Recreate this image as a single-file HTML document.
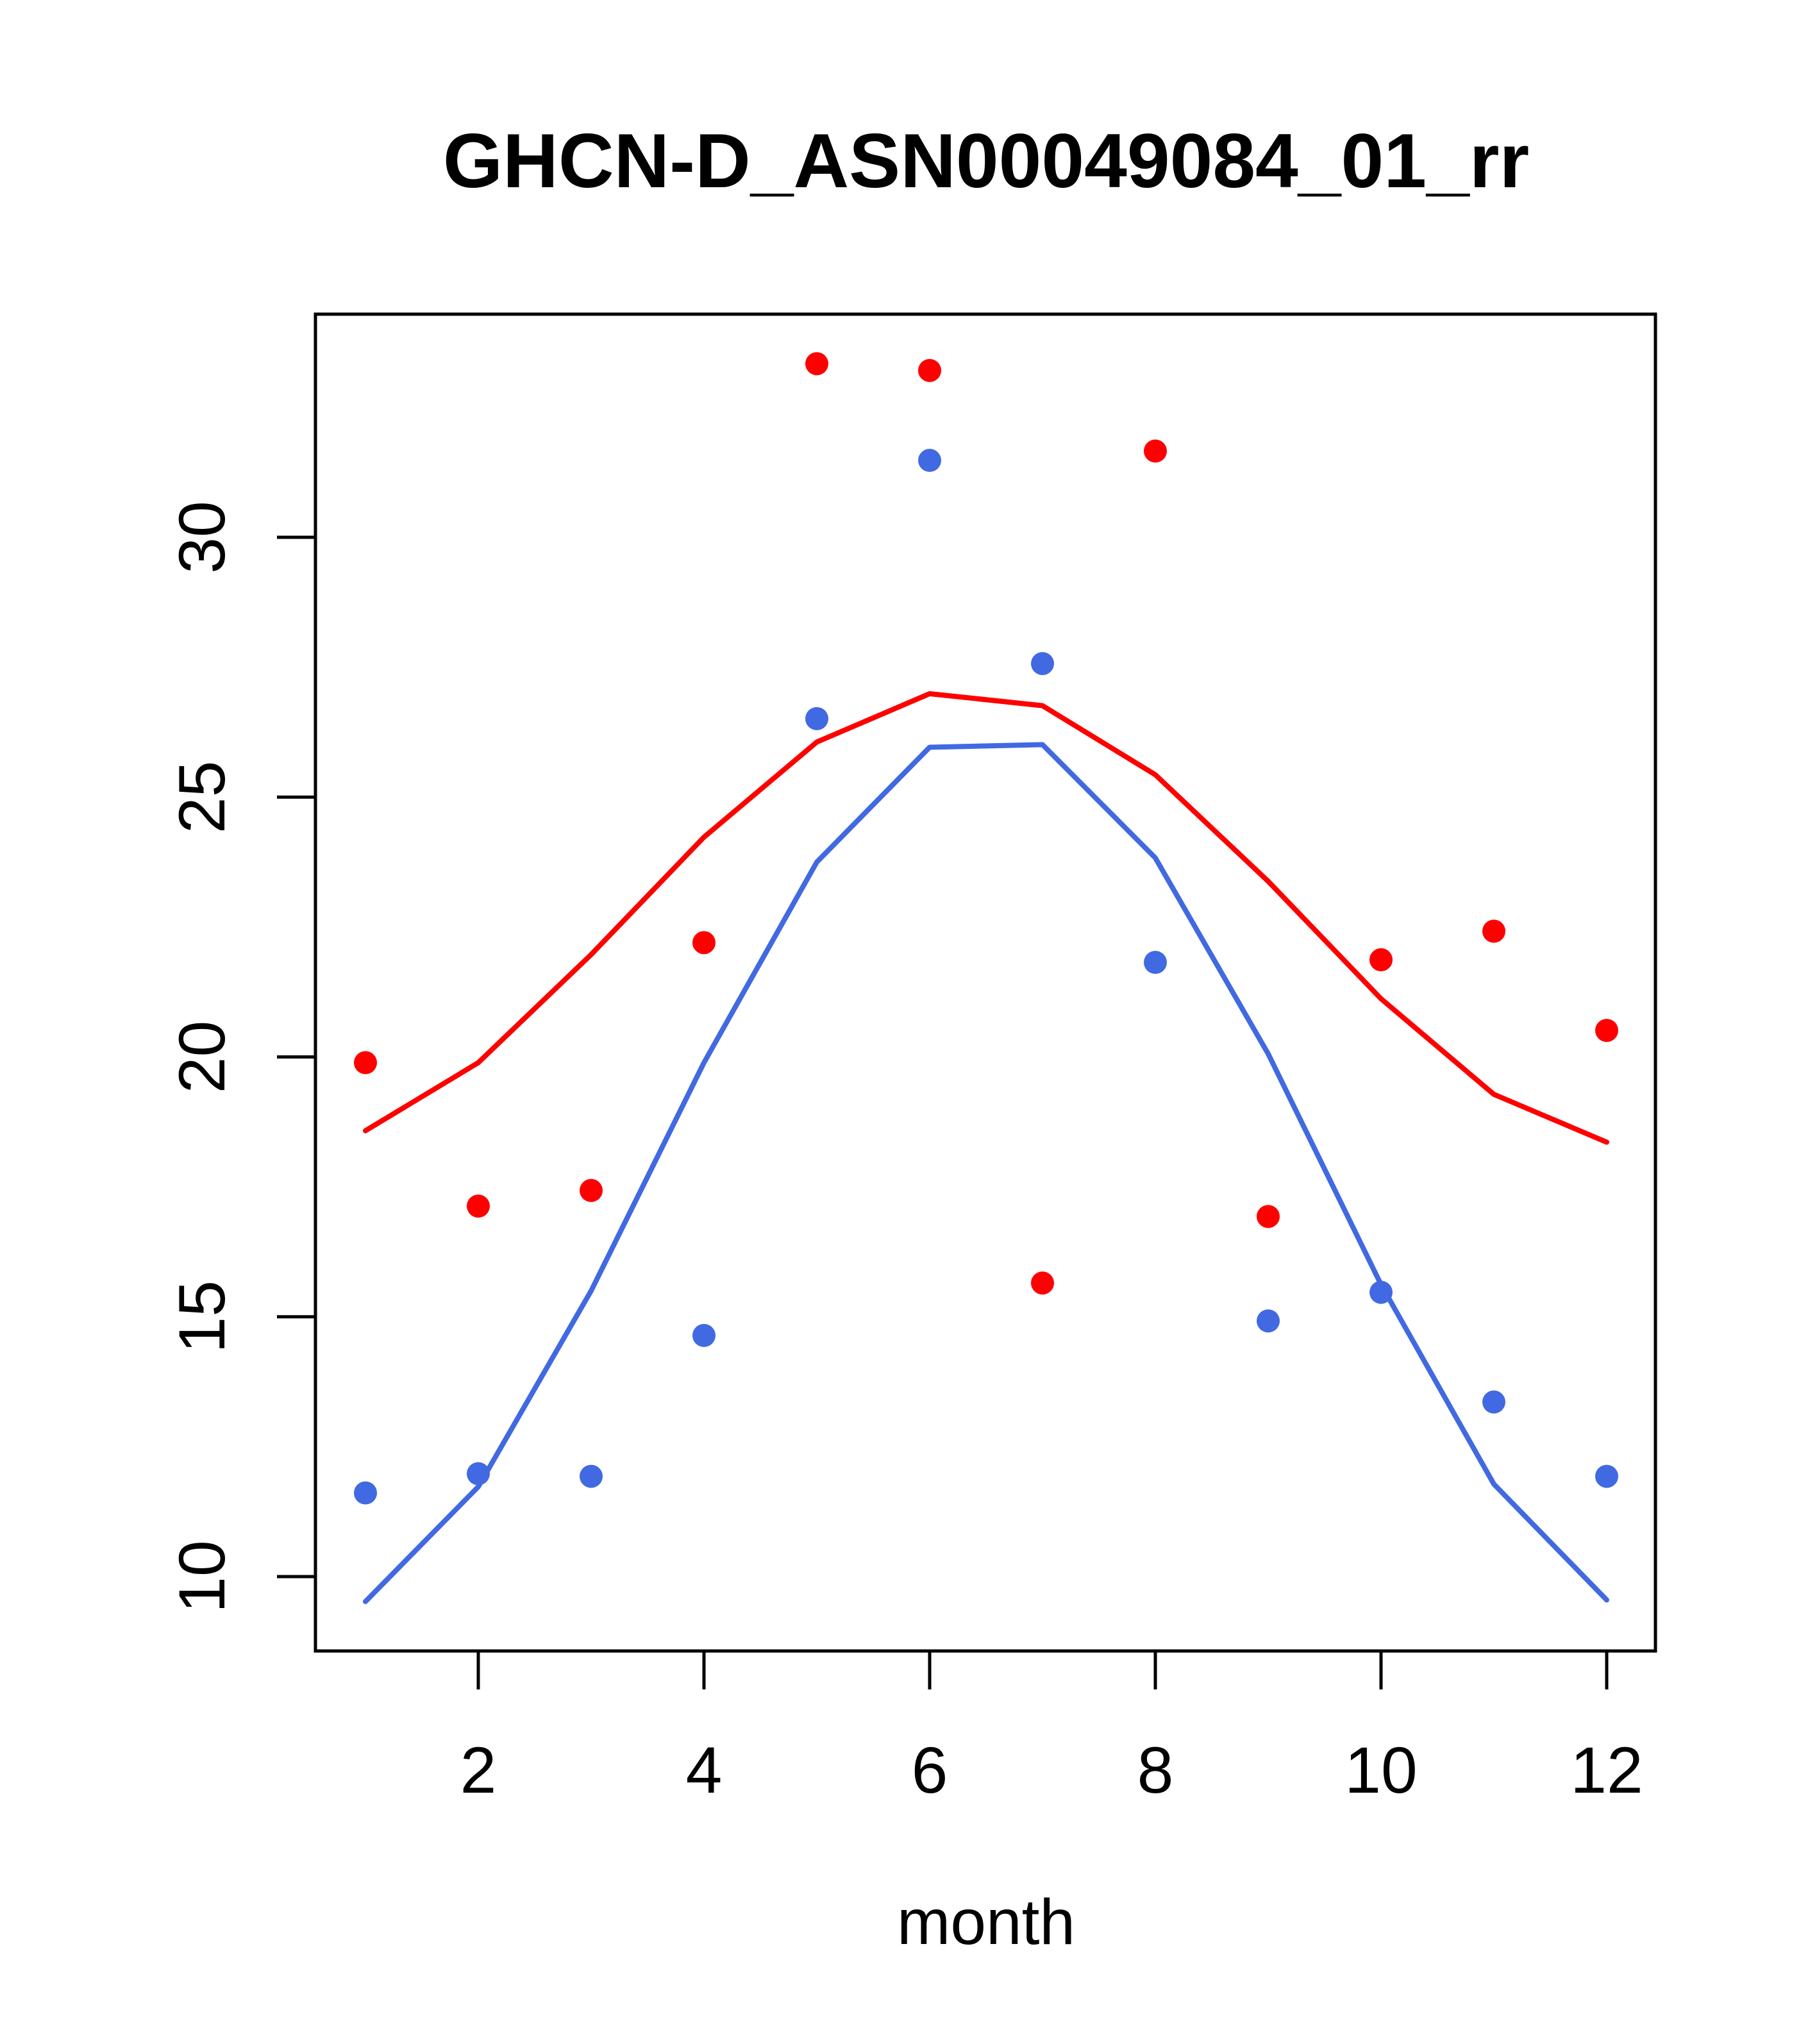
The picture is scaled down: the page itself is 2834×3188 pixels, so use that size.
<!DOCTYPE html>
<html><head><meta charset="utf-8"><style>
html,body{margin:0;padding:0;background:#fff;}
svg{display:block;font-family:"Liberation Sans",Arial,sans-serif;}
</style></head><body>
<svg id="chart" width="2834" height="3188" viewBox="0 0 2834 3188" xmlns="http://www.w3.org/2000/svg">
<text x="1538" y="292" font-size="120" font-weight="bold" text-anchor="middle">GHCN-D_ASN00049084_01_rr</text>
<rect x="492" y="490" width="2090" height="2085" fill="none" stroke="#000" stroke-width="5"/>
<g id="axes"></g>
<g id="series"></g>
<text x="1538" y="3032" font-size="100" text-anchor="middle">month</text>
</svg>
<script>
const months = [1,2,3,4,5,6,7,8,9,10,11,12];
const redPoints = [19.89,17.13,17.43,22.2,33.34,33.21,15.65,31.66,16.93,21.87,22.42,20.51];
const bluePoints = [11.61,11.98,11.93,14.64,26.51,31.48,27.57,21.82,14.92,15.47,13.36,11.93];
const redLine = [18.58,19.89,21.97,24.23,26.06,26.99,26.76,25.43,23.38,21.12,19.28,18.36];
const blueLine = [9.52,11.73,15.5,19.89,23.75,25.96,26.01,23.83,20.06,15.62,11.78,9.55];
const xTicks = [2,4,6,8,10,12];
const yTicks = [10,15,20,25,30];

const NS="http://www.w3.org/2000/svg";
function X(m){return 570+(m-1)*(2506-570)/11;}
function Y(v){return 2459-(v-10)*(2459-838)/20;}
function mk(tag,attrs,parent){const e=document.createElementNS(NS,tag);for(const k in attrs)e.setAttribute(k,attrs[k]);parent.appendChild(e);return e;}
const axes=document.getElementById('axes');
const series=document.getElementById('series');
xTicks.forEach(t=>{
  const l=mk('line',{x1:X(t),x2:X(t),y1:2575,y2:2635,stroke:'#000','stroke-width':5},axes);
  
  
  const tx=mk('text',{x:X(t),y:2796,'font-size':102,'text-anchor':'middle'},axes);
  tx.textContent=t;
  
  
});
yTicks.forEach(t=>{
  const l=mk('line',{x1:432,x2:492,y1:Y(t),y2:Y(t),stroke:'#000','stroke-width':5},axes);
  
  
  const tx=mk('text',{x:0,y:0,'font-size':102,'text-anchor':'middle',transform:`translate(350,${Y(t)}) rotate(-90)`},axes);
  tx.textContent=t;
  
  
});
function line(vals,color,name){
  const p=mk('polyline',{points:vals.map((v,i)=>X(months[i])+','+Y(v)).join(' '),fill:'none',stroke:color,'stroke-width':8,'stroke-linecap':'round','stroke-linejoin':'round'},series);
  
  
}
function pts(vals,color,name){
  vals.forEach((v,i)=>{
    const c=mk('circle',{cx:X(months[i]),cy:Y(v),r:18,fill:color},series);
    
    
  });
}
line(redLine,'#ff0000','red-line');
line(blueLine,'#4169e1','blue-line');
pts(redPoints,'#ff0000','red-point');
pts(bluePoints,'#4169e1','blue-point');
</script>
</body></html>
